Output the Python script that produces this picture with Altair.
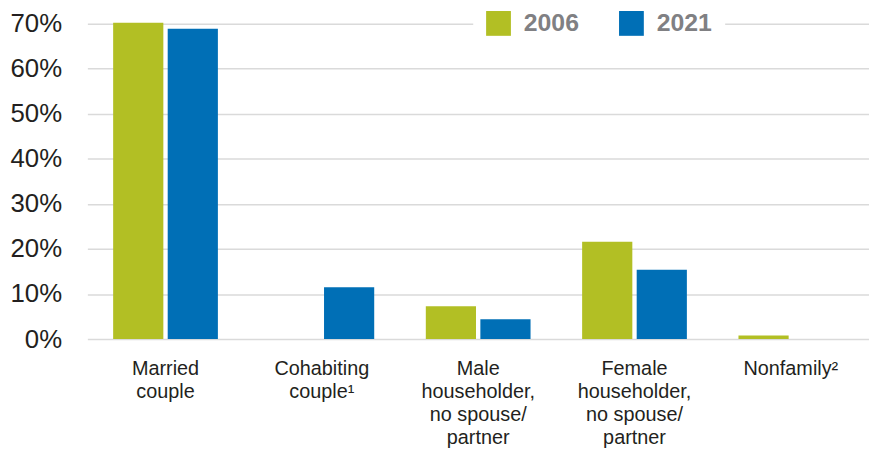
import altair as alt
import pandas as pd

categories = ["Married|couple", "Cohabiting|couple¹", "Male|householder,|no spouse/|partner",
              "Female|householder,|no spouse/|partner", "Nonfamily²"]
years = ["2006", "2021"]
values_2006 = [70.2, None, 7.3, 21.6, 0.8]
values_2021 = [68.9, 11.5, 4.4, 15.4, None]
y_ticks = [0, 10, 20, 30, 40, 50, 60, 70]
colors = ["#b2bf24", "#006fb6"]

rows = []
for c, a, b in zip(categories, values_2006, values_2021):
    if a is not None:
        rows.append({"cat": c, "year": "2006", "value": a})
    if b is not None:
        rows.append({"cat": c, "year": "2021", "value": b})
df = pd.DataFrame(rows)

chart = alt.Chart(df).mark_bar().encode(
    x=alt.X("cat:N", sort=categories,
            scale=alt.Scale(domain=categories, paddingInner=0.33, paddingOuter=0.165),
            axis=alt.Axis(title=None, labelAngle=0, domain=False, ticks=False,
                          labelExpr="split(datum.label, '|')",
                          labelFont="Liberation Sans", labelFontSize=20,
                          labelLineHeight=23, labelColor="#231f20",
                          labelPadding=20, labelBaseline="top")),
    xOffset=alt.XOffset("year:N", scale=alt.Scale(domain=years, paddingInner=0.08)),
    y=alt.Y("value:Q", scale=alt.Scale(domain=[0, 70], nice=False),
            axis=alt.Axis(title=None, values=y_ticks, labelExpr="datum.value + '%'",
                          domain=False, ticks=False, gridColor="#dadada", gridWidth=1.5,
                          labelFont="Liberation Sans", labelFontSize=26,
                          labelColor="#231f20", labelPadding=26)),
    color=alt.Color("year:N", scale=alt.Scale(domain=years, range=colors),
                    legend=alt.Legend(title=None, orient="none", direction="horizontal",
                                      legendX=389, legendY=-26, fillColor="white",
                                      padding=13, symbolType="square", symbolSize=625,
                                      symbolStrokeWidth=0, symbolOpacity=1,
                                      labelFont="Liberation Sans", labelFontSize=25,
                                      labelFontWeight="bold", labelColor="#808083",
                                      labelOffset=13, columnPadding=40)),
).properties(
    width=788, height=318,
    autosize=alt.AutoSizeParams(type="none"),
    padding={"left": 80, "top": 14, "right": 0, "bottom": 110},
).configure_view(stroke=None)

chart.save("out.html", embed_options={"renderer": "svg", "actions": False})
